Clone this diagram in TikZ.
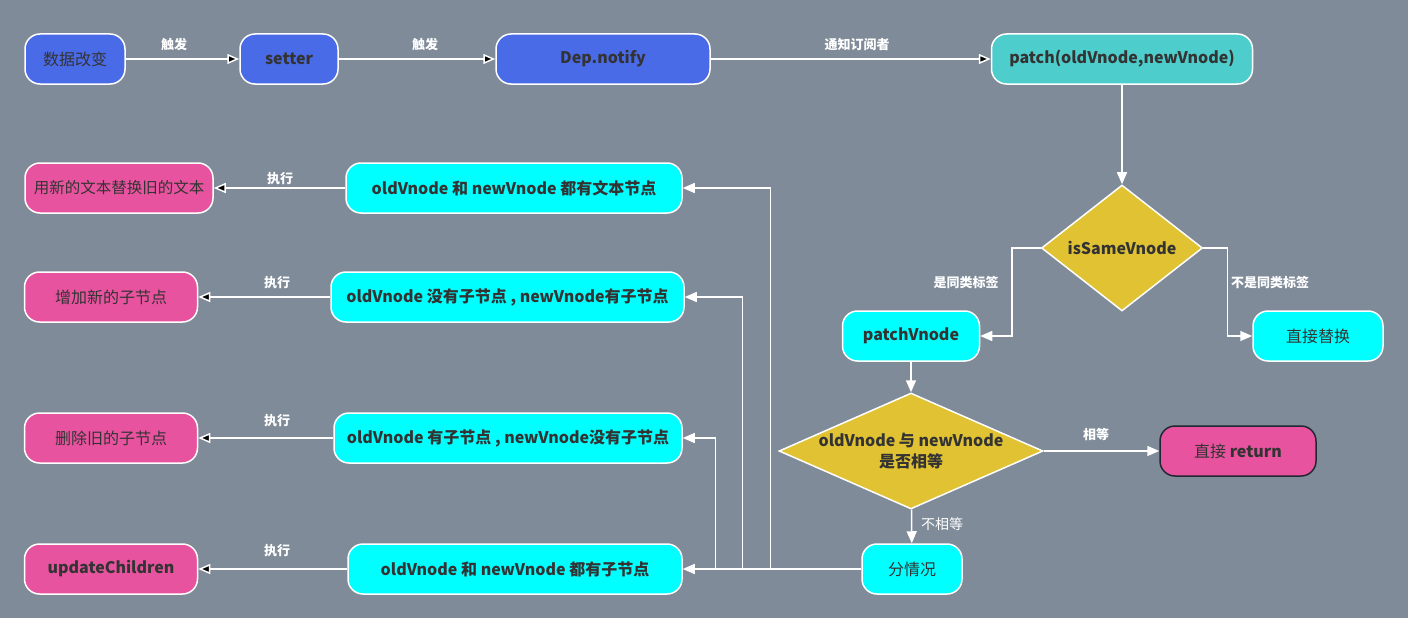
\documentclass[tikz,border=0pt]{standalone}
\usepackage{fontspec}
\setmainfont{Noto Sans CJK SC}
\usepackage{xcolor}
\usetikzlibrary{arrows.meta,shapes.geometric}

\definecolor{bgcol}{HTML}{7F8B99}
\definecolor{bluecol}{HTML}{4A6BE8}
\definecolor{tealcol}{HTML}{4ECDCD}
\definecolor{cyancol}{HTML}{00FFFF}
\definecolor{pinkcol}{HTML}{E8539F}
\definecolor{yellowcol}{HTML}{E0C232}
\definecolor{txtcol}{HTML}{333333}
\definecolor{rimcol}{HTML}{222831}

\tikzset{
  box/.style={draw=white, line width=1.5pt, rounded corners=15pt, minimum height=50pt,
    inner sep=0pt, text=txtcol, font=\fontsize{16}{19}\selectfont\bfseries},
  cjk/.style={font=\fontsize{16}{19}\selectfont},
  bluebox/.style={box, fill=bluecol},
  tealbox/.style={box, fill=tealcol},
  cyanbox/.style={box, fill=cyancol},
  pinkbox/.style={box, fill=pinkcol},
  decide/.style={shape=diamond, draw=white, line width=1.5pt, fill=yellowcol, inner sep=0pt,
    text=txtcol, font=\fontsize{16}{21}\selectfont\bfseries},
  arr/.style={draw=white, line width=1.5pt, -{Triangle[length=12pt,width=10pt]}},
  lbl/.style={text=white, font=\fontsize{13}{15}\selectfont\bfseries},
}

\begin{document}
\begin{tikzpicture}[x=1pt,y=-1pt]
\fill[bgcol] (0,0) rectangle (1408,618);
\useasboundingbox (0,0) rectangle (1408,618);

% top row
\node[bluebox,cjk,minimum width=100pt] (data) at (75,59) {数据改变};
\node[bluebox,minimum width=98pt] (setter) at (289,59) {setter};
\node[bluebox,minimum width=214pt] (dep) at (603,59) {Dep.notify};
\node[tealbox,minimum width=261pt] (patch) at (1122,59) {patch(oldVnode,newVnode)};
\path[arr] (data) edge (setter);
\path[arr] (setter) edge (dep);
\path[arr] (dep) edge (patch);
\node[lbl] (l1) at (174,45) {触发};
\node[lbl] (l2) at (425,45) {触发};
\node[lbl] (l3) at (857,45) {通知订阅者};

% isSameVnode
\node[decide,minimum width=161pt,minimum height=126pt] (same) at (1122,248) {isSameVnode};
\node[cyanbox,minimum width=137pt] (pv) at (911,336) {patchVnode};
\node[cyanbox,cjk,minimum width=130pt] (rep) at (1318,336) {直接替换};
\draw[arr] (patch) -- (same);
\draw[arr] (same.west) -- ++(-29,0) |- (pv.east);
\draw[arr] (same.east) -- ++(24,0) |- (rep.west);
\node[lbl] (l4) at (966,283) {是同类标签};
\node[lbl] (l5) at (1270,283) {不是同类标签};

% oldVnode == newVnode ?
\node[decide,minimum width=264pt,minimum height=116pt,align=center] (eq) at (911,451)
  {\makebox[0pt]{oldVnode 与 newVnode}\\\makebox[0pt]{是否相等}};
\node[pinkbox,draw=rimcol,minimum width=156pt] (ret) at (1238,451) {\mdseries 直接 \bfseries return};
\node[cyanbox,cjk,minimum width=100pt] (cases) at (912,569) {分情况};
\draw[arr] (pv) -- (eq);
\draw[arr] (eq) -- (ret);
\draw[arr] (eq) -- (cases);
\node[lbl] (l6) at (1096,434) {相等};
\node[lbl,font=\fontsize{14}{16}\selectfont] (l7) at (942,524) {不相等};

% cases
\node[cyanbox,minimum width=336pt] (c1) at (514,188) {oldVnode 和 newVnode 都有文本节点};
\node[cyanbox,minimum width=353pt] (c2) at (507.5,297) {oldVnode 没有子节点 , newVnode有子节点};
\node[cyanbox,minimum width=348pt] (c3) at (508,438) {oldVnode 有子节点 , newVnode没有子节点};
\node[cyanbox,minimum width=334pt] (c4) at (515,569) {oldVnode 和 newVnode 都有子节点};
\draw[arr] (cases.west) -- ++(-91,0) |- (c1.east);
\draw[arr] (cases.west) -- ++(-119,0) |- (c2.east);
\draw[arr] (cases.west) -- ++(-146,0) |- (c3.east);
\draw[arr] (cases.west) -- (c4.east);

% results
\node[pinkbox,minimum width=188pt,font=\fontsize{15.5}{18}\selectfont] (r1) at (119,188) {用新的文本替换旧的文本};
\node[pinkbox,cjk,minimum width=173pt] (r2) at (111,297) {增加新的子节点};
\node[pinkbox,cjk,minimum width=173pt] (r3) at (111,438) {删除旧的子节点};
\node[pinkbox,minimum width=173pt] (r4) at (111,569) {updateChildren};
\path[arr] (c1) edge (r1);
\path[arr] (c2) edge (r2);
\path[arr] (c3) edge (r3);
\path[arr] (c4) edge (r4);
\node[lbl] (l8) at (280,179) {执行};
\node[lbl] (l9) at (277,283) {执行};
\node[lbl] (l10) at (277,421) {执行};
\node[lbl] (l11) at (277,551) {执行};
\end{tikzpicture}
\end{document}
